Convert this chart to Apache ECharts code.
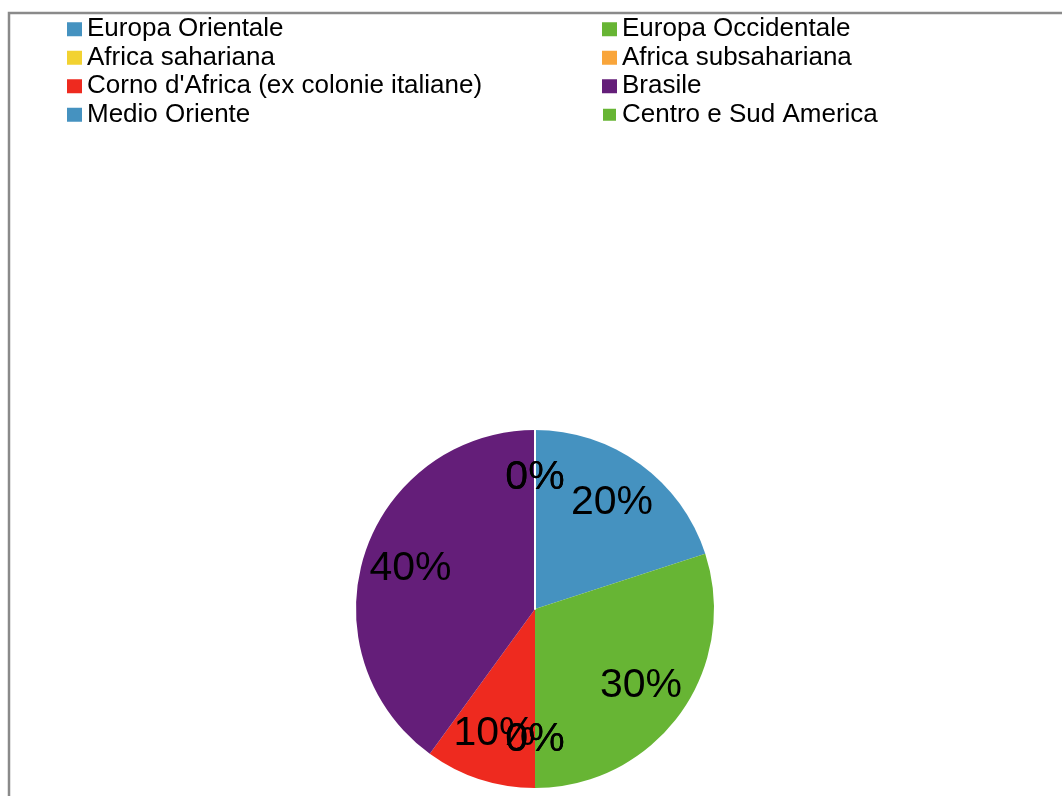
<!DOCTYPE html>
<html>
<head>
<meta charset="utf-8">
<title>Provenienza</title>
<script src="https://cdn.jsdelivr.net/npm/echarts@6/dist/echarts.min.js"></script>
<style>
  html, body { margin: 0; padding: 0; background: #ffffff; }
  #chart { width: 1062px; height: 796px; }
</style>
</head>
<body>
<div id="chart"></div>
<script>
// Regions of origin and their share (percent)
const regions = [
  'Europa Orientale',
  'Europa Occidentale',
  'Africa sahariana',
  'Africa subsahariana',
  "Corno d'Africa (ex colonie italiane)",
  'Brasile',
  'Medio Oriente',
  'Centro e Sud America'
];
const shares = [20, 30, 0, 0, 10, 40, 0, 0];

// Legend columns (left / right)
const legendLeft = ['Europa Orientale', 'Africa sahariana', "Corno d'Africa (ex colonie italiane)", 'Medio Oriente'];
const legendRight = ['Europa Occidentale', 'Africa subsahariana', 'Brasile', 'Centro e Sud America'];

const palette = ['#4592c0', '#67b534', '#f2d231', '#f9a53a', '#ee2a1f', '#641e79', '#4592c0', '#67b534'];

const FONT = '"Liberation Sans", Arial, sans-serif';
const CENTER = [535, 609];
const R = 179;

const sliceData = regions.map((name, i) => {
  const item = { name: name, value: shares[i], itemStyle: { color: palette[i] } };
  if (name === 'Centro e Sud America') {
    item.itemStyle.borderColor = '#ffffff';
    item.itemStyle.borderWidth = 2;
  }
  return item;
});
const labelData = regions.map((name, i) => ({ name: name, value: shares[i] }));

const legendCommon = {
  orient: 'vertical',
  top: 15,
  padding: 0,
  icon: 'rect',
  itemWidth: 15,
  itemHeight: 14,
  itemGap: 0,
  selectedMode: false,
  textStyle: { fontFamily: FONT, fontSize: 26, color: '#000000', lineHeight: 28.5 }
};

const chart = echarts.init(document.getElementById('chart'), null, { renderer: 'canvas' });
chart.setOption({
  animation: false,
  backgroundColor: '#ffffff',
  graphic: [{
    type: 'rect',
    shape: { x: 9, y: 13, width: 1200, height: 1000 },
    style: { fill: 'none', stroke: '#8a8a8a', lineWidth: 2.5 },
    silent: true
  }],
  legend: [
    Object.assign({}, legendCommon, { left: 67, data: legendLeft }),
    Object.assign({}, legendCommon, { left: 601, data: legendRight })
  ],
  series: [
    {
      type: 'pie',
      center: CENTER,
      radius: [0, R],
      startAngle: 90,
      clockwise: true,
      minAngle: 0,
      avoidLabelOverlap: false,
      label: { show: false },
      labelLine: { show: false },
      emphasis: { disabled: true },
      data: sliceData
    },
    {
      // label ring: places the percentage text at ~0.72 of the radius
      type: 'pie',
      center: CENTER,
      radius: [77, R],
      startAngle: 90,
      clockwise: true,
      minAngle: 0,
      minShowLabelAngle: -1,
      avoidLabelOverlap: false,
      silent: true,
      itemStyle: { color: 'rgba(0,0,0,0)' },
      label: {
        show: true,
        position: 'inside',
        formatter: p => p.value + '%',
        fontFamily: FONT,
        fontSize: 41,
        color: '#000000'
      },
      labelLayout: { hideOverlap: false },
      labelLine: { show: false },
      emphasis: { disabled: true },
      data: labelData
    }
  ]
});
</script>
</body>
</html>
